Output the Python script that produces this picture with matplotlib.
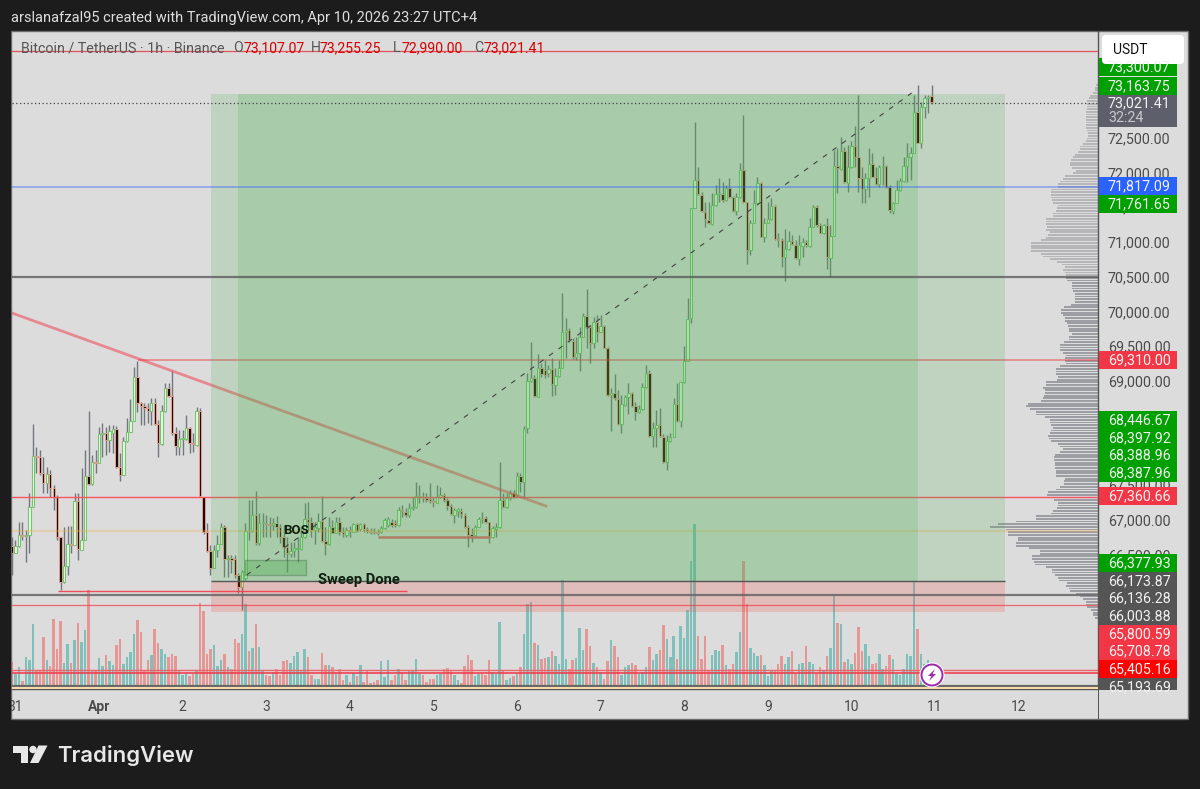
import numpy as np
import matplotlib
matplotlib.use('Agg')
import matplotlib.pyplot as plt
import matplotlib.patches as patches

plt.rcParams['font.family'] = ['Roboto', 'DejaVu Sans']

# hourly candles, one row of values per series, first bar is Mar 31 23:00
opens = [66625,66520,66625,66784,66775,66780,67192,67921,67911,67681,67527,67657,67455,67335,66760,66112,66338,66654,66640,67278,
66568,66712,67638,67513,67839,67825,68237,68247,68151,68256,68304,67758,67647,68137,68271,68424,69062,68679,68645,68607,
68573,68688,68381,68093,68568,68894,68784,68247,68055,68160,68165,68328,68113,68079,68568,67335,66832,66558,66304,66568,
66654,66904,66433,66448,66433,66208,66030,66160,66846,66837,67072,66664,66961,66961,66942,66923,66961,66904,66760,66606,
66510,66558,66577,66577,66750,67014,66966,66856,66880,66990,66697,66654,66904,66817,66976,66832,66784,66856,66832,66937,
66865,66937,66865,66846,66832,66832,66822,66880,66928,66976,66961,66928,
67144,67120,67072,67168,67182,67345,67336,67312,67297,67278,67250,67326,67360,67288,67202,67072,67135,67135,67072,66904,
66794,66784,66904,67019,67024,66966,66760,66875,66895,67288,67182,67312,67384,67360,67633,67542,68320,69000,69039,68775,
69183,69159,69111,69168,68948,69072,69183,69701,69735,69581,69341,69399,69629,69936,69773,69552,69854,69710,69792,69471,
68794,68823,68741,68377,68650,68765,68823,68641,68550,68593,68909,69120,68214,68319,68367,68199,67840,68142,68199,68670,
68420,68981,69293,69902,
71494,71892,71676,71436,71316,71259,71532,71686,71686,71604,71772,71643,71451,71643,72036,71571,70885,71278,71566,71844,
71077,71278,71326,71518,71038,71029,70789,70899,71019,70957,70755,70947,70995,70947,71220,71499,71244,71125,71244,70774,
71091,72093,72050,72314,71854,72074,72381,72218,71916,71762,71916,72117,71940,71834,72074,72093,71786,71451,71566,71748,
71878,72093,72218,72285,72866,72429,72947,73077,73107]
closes = [66530,66625,66784,66774,66780,67192,67921,67911,67681,67527,67657,67455,67335,66760,66112,66338,66654,66640,67278,66577,
66712,67638,67513,67829,67825,68237,68247,68151,68285,68304,67758,67647,68137,68271,68424,69062,68679,68645,68607,68573,
68688,68381,68103,68568,68894,68784,68247,68069,68160,68175,68328,68113,68093,68568,67345,66832,66558,66314,66568,66654,
66904,66433,66448,66424,66208,66040,66256,66846,66837,67072,66664,66961,66971,66942,66923,66961,66904,66760,66606,66520,
66558,66592,66592,66760,67014,66966,66856,66894,66990,66697,66654,66913,66817,66976,66832,66798,66856,66841,66937,66846,
66937,66865,66846,66832,66827,66817,66880,67000,67009,66928,66928,67144,
67130,67072,67168,67182,67345,67350,67312,67288,67278,67259,67336,67360,67288,67202,67086,67144,67154,67086,66904,66784,
66775,66904,67019,67010,66976,66770,66880,66895,67288,67192,67312,67384,67336,67633,67542,68310,69000,69048,68785,69183,
69101,69087,69168,68953,69072,69183,69701,69735,69591,69351,69399,69629,69936,69782,69552,69854,69710,69792,69471,68794,
68823,68751,68377,68670,68765,68823,68641,68550,68593,68909,69120,68214,68319,68367,68214,67840,68142,68199,68670,68430,
68981,69293,69888,71484,
71892,71691,71451,71331,71268,71532,71691,71700,71604,71772,71652,71451,71643,72036,71571,70885,71278,71566,71844,71077,
71278,71326,71518,71038,71029,70789,70899,71019,70971,70765,70957,70995,70957,71211,71499,71244,71134,71244,70779,71091,
72093,72060,72314,71858,72074,72381,72218,71916,71762,71916,72117,71940,71834,72074,72093,71786,71460,71566,71748,71878,
72093,72218,72285,72866,72429,72947,73077,73082,73021]
highs = [66760,66712,66966,66966,66856,67383,68381,68055,68007,67911,67767,67719,67503,67359,66760,66904,66913,66913,67383,67383,
67743,68007,68568,67935,68007,68343,68391,68343,68367,68367,68352,67959,68199,68463,68736,69206,69293,68703,68679,68679,
68750,68750,68439,68655,68966,68966,69149,68343,68295,68295,68511,68343,68247,68631,68607,67335,66952,66640,66640,66784,
66952,66928,66496,66496,66496,66232,66280,66961,67288,67288,67422,67096,67096,67072,67048,67024,67062,66942,66928,66760,
66688,66688,66760,66904,67240,67263,67048,66976,67096,67345,66904,67048,67000,67048,67048,66904,66904,66913,66952,66952,
66952,66952,66894,66880,66880,66870,66913,67024,67040,67020,67000,67192,
67216,67168,67240,67336,67552,67504,67408,67384,67528,67336,67504,67480,67384,67312,67230,67168,67168,67168,67096,66928,
66880,66928,67038,67120,67058,66976,66914,66952,67830,67384,67384,67432,67432,67696,67672,68353,69111,69567,69087,69389,
69255,69303,69231,69327,69183,69303,70262,69902,69759,69615,69639,69782,69974,70320,69806,69926,69950,69950,69806,69495,
68895,69101,68871,68799,68799,68967,68847,68703,68655,68967,69231,69159,68415,68583,68607,68238,68223,68247,68751,68977,
68981,69504,70190,71484,
72731,72084,71724,71580,71580,71700,71820,71916,71868,71820,71926,71662,71700,72141,72827,71580,71316,71748,71930,71868,
71340,71580,71628,71532,71125,71053,71182,71163,71100,71029,71100,71053,71029,71340,71532,71532,71268,71259,71340,71244,
72324,72348,72516,72372,72396,72458,72669,73115,72084,71988,72348,72276,72084,72108,72237,72108,71820,71580,71892,71916,
72228,72420,72372,73115,73259,73019,73115,73115,73255]
lows = [66208,66520,66616,66712,66400,66520,67192,67671,67647,67383,67383,67335,67144,66712,65992,66088,66208,66520,66640,66424,
66568,66712,67503,67503,67671,67815,67911,67935,67983,67959,67743,67566,67647,68127,68271,68424,68559,68367,68367,68391,
68367,68367,67911,68079,68559,68775,68223,67935,67935,67935,68151,67959,67983,68065,67335,66800,66544,66208,66304,66472,
66654,66175,66175,66232,66160,65944,65704,66136,66712,66832,66640,66640,66760,66760,66760,66856,66760,66664,66472,66256,
66472,66472,66400,66568,66736,66856,66760,66654,66832,66688,66496,66640,66808,66808,66784,66760,66760,66760,66832,66832,
66846,66832,66817,66800,66800,66790,66808,66870,66900,66900,66900,66913,
67048,67048,67048,67144,67168,67240,67264,67264,67250,67182,67240,67312,67264,67144,67072,66952,67048,67024,66880,66607,
66688,66775,66895,66952,66952,66664,66736,66760,66880,67168,67168,67288,67312,67336,67408,67336,68247,68991,68775,68765,
69053,69039,69053,68785,68799,69063,69183,69327,69567,69312,69303,69149,69629,69471,69264,69471,69567,69710,69471,68785,
68286,68727,68367,68257,68641,68526,68631,68439,68535,68583,68895,68199,68055,68055,68199,67825,67720,68128,68190,68415,
68343,68977,69288,69840,
71484,71676,71436,71220,71259,71244,71522,71580,71580,71595,71628,71436,71388,71628,71556,70683,70813,71268,71556,71067,
71005,71268,71316,71029,70933,70645,70443,70885,70957,70750,70669,70789,70933,70933,71211,71220,71125,71115,70606,70491,
71086,71710,72036,71854,71724,72060,72084,71724,71556,71556,71652,71930,71820,71796,71820,71772,71412,71403,71556,71738,
71868,71868,71892,72276,72420,72348,72779,72851,72990]
volumes = [75,40,60,18,90,82,190,50,50,150,82,62,205,115,197,72,128,72,140,192,
135,172,290,50,52,88,62,95,78,65,125,143,70,90,105,160,200,165,50,80,
95,175,133,115,100,90,100,92,50,35,40,32,40,50,253,228,98,115,125,62,
80,100,60,55,145,132,160,248,108,118,190,120,50,35,32,45,55,35,78,80,
72,92,105,50,113,90,35,25,25,102,67,65,60,45,55,20,35,15,43,32,
65,15,50,12,15,20,78,30,82,20,35,55,
45,20,47,47,85,40,35,15,25,25,35,40,55,57,50,35,22,13,62,97,
82,32,40,40,35,82,45,40,195,48,22,27,33,43,60,160,250,255,133,127,
85,87,90,108,93,70,320,85,55,82,87,177,110,173,122,73,60,45,25,77,
142,122,90,35,60,65,73,65,40,45,60,120,82,100,110,185,145,90,153,85,
183,147,232,378,
490,153,85,153,50,95,110,107,
127,67,55,70,105,165,377,250,117,102,93,95,65,32,47,47,70,92,68,90,
109,42,68,73,123,75,70,42,60,47,93,117,273,192,190,75,83,68,103,180,
107,130,92,70,73,98,53,63,95,85,40,35,55,98,92,317,175,98,70,80,20]

# volume profile on the right, top row to bottom row
profile_vol = [5,10,10,15,25,27,33,33,33,33,35,35,37,37,37,37,35,33,30,30,33,37,45,55,55,60,70,75,80,85,83,77,65,75,100,105,
115,120,120,140,140,140,140,137,135,120,123,125,135,135,157,157,155,153,155,145,150,155,172,200,200,200,200,170,165,145,123,108,
100,105,100,95,97,93,77,77,77,75,70,70,70,70,80,103,110,110,105,100,100,93,90,87,87,77,87,87,103,115,115,115,105,97,100,100,95,115,
127,127,127,120,123,155,157,165,160,160,163,165,170,210,215,205,187,185,160,145,145,140,135,140,145,150,148,140,120,115,105,115,
130,133,133,130,130,130,127,127,127,100,103,103,115,125,150,153,150,133,120,120,123,135,140,185,185,245,300,325,275,270,270,240,
240,247,245,207,175,175,197,197,193,190,155,137,137,130,120,117,93,97,87,85,65,55,45,37,35,33,20,15,15,10]
profile_top = 73260
profile_bottom = 65590

day_ticks = [-24,0,24,48,72,96,120,144,168,192,216,240,264]
day_labels = ['31','Apr','2','3','4','5','6','7','8','9','10','11','12']
price_ticks = [65000,65500,66000,66500,67000,67500,68000,68500,69000,69500,70000,70500,71000,71500,72000,72500,73000]

# tags on the price scale: centre, text, colour
tags = [(67,'73,300.07','#00a000'),(86,'73,163.75','#00a000'),(186,'71,817.09','#2962ff'),(204,'71,761.65','#00a000'),
        (360,'69,310.00','#f23645'),(420,'68,446.67','#00a000'),(438,'68,397.92','#00a000'),(455,'68,388.96','#00a000'),
        (473,'68,387.96','#00a000'),(496,'67,360.66','#f23645'),(563,'66,377.93','#00a000'),(581,'66,173.87','#555555'),
        (598,'66,136.28','#555555'),(616,'66,003.88','#555555'),(634,'65,800.59','#f23645'),(651,'65,708.78','#f23645'),
        (669,'65,405.16','#ff0000'),(687,'65,193.69','#555555')]

opens = np.array(opens)
closes = np.array(closes)
highs = np.array(highs)
lows = np.array(lows)
volumes = np.array(volumes)
hours = np.arange(len(closes)) - 25
up = closes >= opens

BG = '#dcdcdc'
DARK = '#1c1c1c'

fig = plt.figure(figsize=(12, 7.89), dpi=100, facecolor=DARK)

# panel behind everything, in pixels
back = fig.add_axes([0, 0, 1, 1], zorder=0)
back.set_xlim(0, 1200)
back.set_ylim(789, 0)
back.axis('off')
back.add_patch(patches.Rectangle((11, 31), 1177, 688, fc=BG, ec='#6a6a6a', lw=1))

pos = [12/1200, (789-689)/789, (1098-12)/1200, (689-31)/789]

ax_vol = fig.add_axes(pos, zorder=1)
ax_vol.set_facecolor(BG)
ax_vol.set_xlim(-24.98, 286.8)
ax_vol.set_ylim(-6, 1968)
ax_vol.bar(hours, volumes, width=0.72, color=np.where(up, '#26a69a', '#ef5350'), alpha=0.5)
ax_vol.axis('off')

ax_prof = fig.add_axes(pos, zorder=2)
ax_prof.patch.set_visible(False)
ax_prof.set_xlim(3258, 0)
ax_prof.set_ylim(64568, 74037)
ax_prof.axis('off')
rows = np.linspace(profile_top, profile_bottom, len(profile_vol))
row_colors = np.where(rows > 70504, '#b6b6b8', '#9d9da4')
ax_prof.barh(rows, profile_vol, height=26, color=row_colors)

ax = fig.add_axes(pos, zorder=3)
ax.patch.set_visible(False)
ax.set_xlim(-24.98, 286.8)
ax.set_ylim(64568, 74037)

# candles
ax.vlines(hours, lows, highs, color='#74767e', lw=1.0, zorder=3)
ax.bar(hours, np.abs(closes-opens), bottom=np.minimum(opens, closes), width=0.7,
       color=np.where(up, '#e8f5e4', '#0c0c0c'), edgecolor=np.where(up, '#74c472', '#e39c8c'),
       lw=0.75, zorder=4)

# horizontal levels and trend line, these sit under the zones
ax.hlines(69302, 11.2, 286.8, color='#f23645', lw=1.1, alpha=0.6, zorder=4.5)
ax.axhline(67338, color='#ff4d5a', lw=1.0, alpha=0.95, zorder=4.5)
ax.axhline(66835, color='#f5b041', lw=1.6, alpha=0.3, zorder=4.5)
ax.hlines(66750, 80.1, 112.3, color='#e8505a', lw=1.8, alpha=0.85, zorder=4.5)
ax.plot([-25, 128.3], [69979, 67201], color='#f23645', lw=2.0, alpha=0.5, zorder=4.5)

# long position zones
GREEN = '#4caf50'
ax.add_patch(patches.Rectangle((32.2, 66122), 227.9, 7008, fc=GREEN, alpha=0.2, lw=0, zorder=5))
ax.add_patch(patches.Rectangle((39.9, 66122), 195.2, 7008, fc=GREEN, alpha=0.2, lw=0, zorder=5))
ax.add_patch(patches.Rectangle((32.2, 65676), 227.9, 446, fc='#f44336', alpha=0.2, lw=0, zorder=5))
ax.hlines(66122, 32.2, 260.1, color='#555555', lw=1, zorder=6)
ax.add_patch(patches.Rectangle((42, 66212), 17.3, 207, fc=GREEN, alpha=0.35, ec='#2f5f35', lw=1, zorder=6))

ax.axhline(73749, color='#e0525c', lw=0.9, zorder=6)
ax.axhline(72995, color='#444444', lw=0.9, ls=(0, (1, 2)), zorder=6)
ax.axhline(71799, color='#2962ff', lw=1.1, alpha=0.5, zorder=6)
ax.axhline(70504, color='#555555', lw=1.6, alpha=0.75, zorder=6)
ax.hlines(65985, -11.8, 88.4, color='#f23645', lw=1.0, alpha=0.85, zorder=6)
ax.axhline(65921, color='#666666', lw=1.6, alpha=0.85, zorder=6)
ax.axhline(65784, color='#f23645', lw=0.9, alpha=0.7, zorder=6)
ax.axhline(64842, color='#f0616b', lw=1.0, zorder=6)
ax.axhline(64805, color='#f23645', lw=1.1, zorder=6)
ax.axhline(64611, color='#666666', lw=1.6, zorder=6)
ax.axhline(64582, color='#f5d9a8', lw=1.5, zorder=6)

ax.plot([42.4, 233.3], [66209, 73145], color='#444444', lw=0.8, ls=(0, (4.5, 6)), zorder=6)

ax.text(56.5, 66855, 'BOS', fontsize=9.5, fontweight='bold', color='#102010', ha='center', va='center', zorder=7)
ax.text(62.9, 66137, 'Sweep Done', fontsize=10.6, fontweight='bold', color='#102010', va='center', zorder=7)

ax.yaxis.tick_right()
ax.set_yticks(price_ticks)
ax.set_yticklabels(['{:,.2f}'.format(p) for p in price_ticks], fontsize=10.3, color='#4a4a4a')
ax.set_xticks(day_ticks)
ax.set_xticklabels(day_labels, fontsize=10, color='#4a4a4a')
ax.get_xticklabels()[1].set_fontweight('bold')
ax.tick_params(axis='both', length=0)
ax.tick_params(axis='y', pad=7.2)
ax.tick_params(axis='x', pad=8)
for s in ['top', 'left']:
    ax.spines[s].set_visible(False)
for s in ['right', 'bottom']:
    ax.spines[s].set_color('#555555')
    ax.spines[s].set_linewidth(1)

# everything on top of the chart, in pixels
over = fig.add_axes([0, 0, 1, 1], zorder=4)
over.patch.set_visible(False)
over.set_xlim(0, 1200)
over.set_ylim(789, 0)
over.axis('off')

over.add_patch(patches.Rectangle((1098, 689), 1, 30, fc='#555555', lw=0))
over.add_patch(patches.Rectangle((0, 31), 11, 690, fc=DARK, lw=0))

for cy, label, col in tags:
    over.add_patch(patches.Rectangle((1099, cy-8.8), 78, 17.6, fc=col, lw=0))
    over.text(1108, cy, label, fontsize=10.3, color='#f2f2f2', va='center')
over.add_patch(patches.Rectangle((1099, 95), 78, 32, fc='#5d606b', lw=0))
over.text(1108, 103, '73,021.41', fontsize=10.3, color='#f2f2f2', va='center')
over.text(1108, 118, '32:24', fontsize=10.3, color='#c8c8cc', va='center')
# last tag runs into the time axis
over.add_patch(patches.Rectangle((1099, 690), 88, 28, fc=BG, lw=0))

over.add_patch(patches.FancyBboxPatch((1105, 38), 76, 23, boxstyle='round,pad=3,rounding_size=4', fc='white', lw=0))
over.text(1113, 50, 'USDT', fontsize=10, color='#111111', va='center')

over.text(11, 18, 'arslanafzal95 created with TradingView.com, Apr 10, 2026 23:27 UTC+4', fontsize=10.5, color='#dddddd', va='center')
over.text(21, 48, 'Bitcoin / TetherUS · 1h · Binance', fontsize=10.3, color='#555555', va='center')
for x0, letter, x1, val in [(233, 'O', 243, '73,107.07'), (311, 'H', 320, '73,255.25'),
                            (393, 'L', 401, '72,990.00'), (474, 'C', 484, '73,021.41')]:
    over.text(x0, 48, letter, fontsize=10.1, color='#555555', va='center')
    over.text(x1, 48, val, fontsize=10.1, color='#d50000', va='center')

# lightning badge
over.add_patch(patches.Circle((932, 675), 12.5, fc='white', lw=0))
over.add_patch(patches.Circle((932, 675), 10.5, fc='white', ec='#9c27b0', lw=1.4))
over.add_patch(patches.Polygon([(935, 669), (928, 676), (931.5, 676), (929, 681), (936, 674), (932.5, 674)], fc='#9c27b0', lw=0))

# TradingView logo
over.add_patch(patches.Polygon([(13, 745.5), (28, 745.5), (28, 763), (20.5, 763), (20.5, 753), (13, 753)], fc='#e8e8e8', lw=0))
over.add_patch(patches.Circle((33, 749.5), 3.7, fc='#e8e8e8', lw=0))
over.add_patch(patches.Polygon([(38.5, 745.5), (47.5, 745.5), (38.5, 763), (30, 763)], fc='#e8e8e8', lw=0))
over.text(57, 755, 'TradingView', fontsize=15.9, fontfamily='Inter', fontweight='semibold', color='#e8e8e8', va='center')

fig.savefig('out.png', dpi=100, facecolor=DARK)
